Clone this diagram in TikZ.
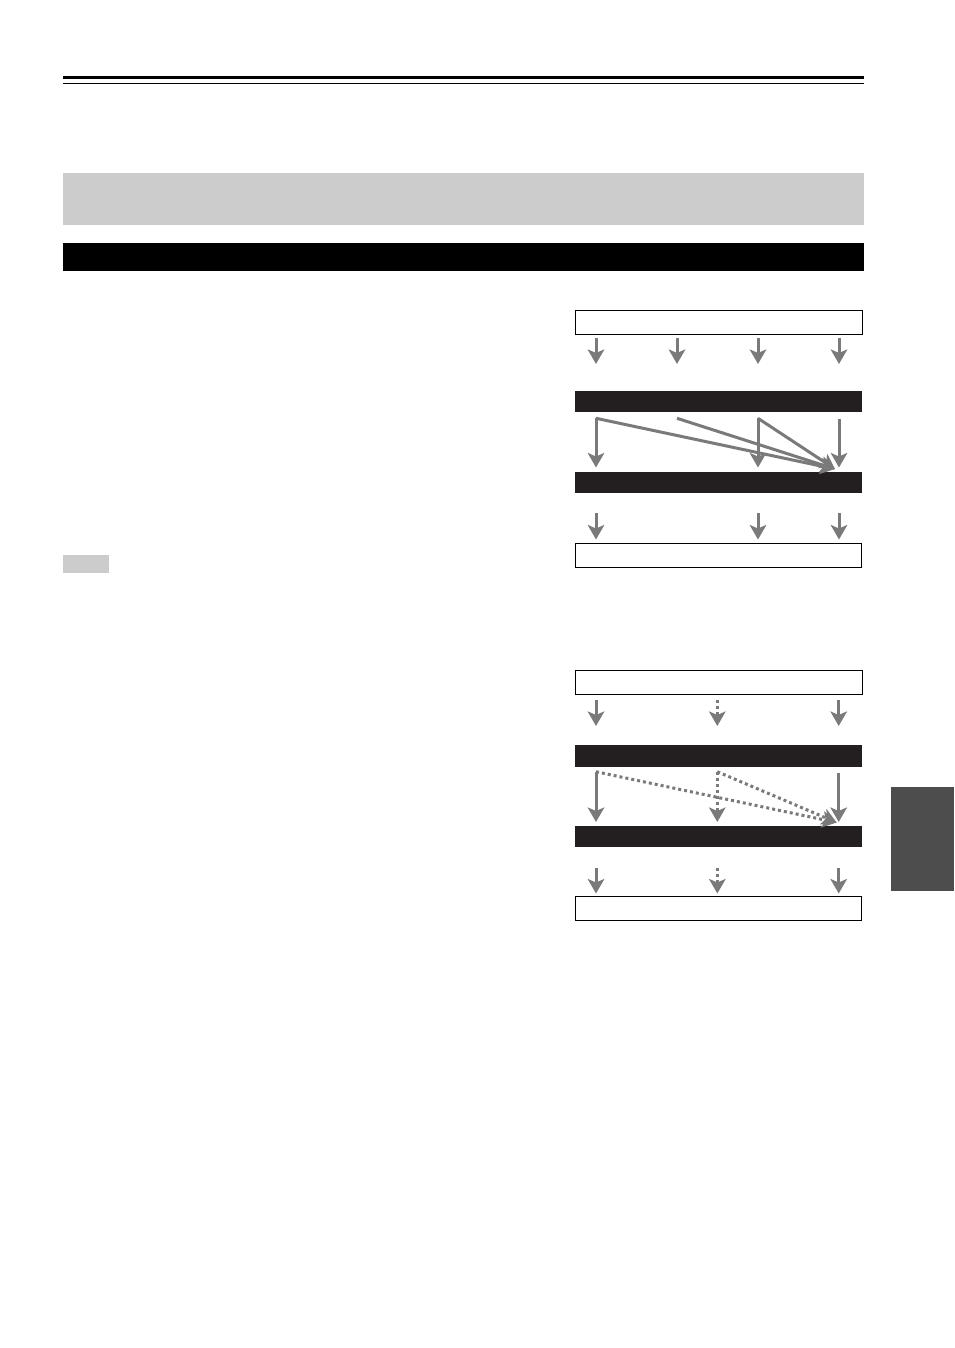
\documentclass[tikz,border=0pt]{standalone}
\usetikzlibrary{arrows.meta}
\definecolor{bandblack}{HTML}{231F20}
\definecolor{arrgray}{HTML}{7A7A7A}
\definecolor{lightband}{HTML}{CCCCCC}
\definecolor{tabgray}{HTML}{4D4D4D}
\tikzset{
  flow/.style={draw=arrgray, line width=3pt, -{Stealth[length=14.5pt,width=16.5pt,inset=3.5pt]}},
  dotflow/.style={flow, dash pattern=on 3pt off 3pt},
  framebox/.style={draw=black, line width=1pt, fill=white},
  blackband/.style={fill=bandblack},
}
\begin{document}
\begin{tikzpicture}[x=1pt,y=-1pt]
\useasboundingbox (0,0) rectangle (954,1348);
\fill[white] (0,0) rectangle (954,1348);
% header rules
\fill[black] (63,75.7) rectangle (864,78.6);
\fill[black] (63,82.6) rectangle (864,83.8);
\fill[lightband] (63,172.7) rectangle (864,224.7);
\fill[black] (63,242.7) rectangle (864,270.7);
\fill[lightband] (63,555) rectangle (109,573);
\fill[tabgray] (891,786.7) rectangle (954,890.7);

% ---------- diagram 1 ----------
\node[framebox, minimum width=286.2pt, minimum height=24pt, inner sep=0pt, anchor=north west] (in1) at (575.3,309.5) {};
\fill[blackband] (575,390.7) rectangle (862,411.7);
\fill[blackband] (575,472.3) rectangle (862,493.3);
\node[framebox, minimum width=285.2pt, minimum height=24pt, inner sep=0pt, anchor=north west] (out1) at (575.3,542.5) {};

\foreach \n/\x in {a/596,b/677,c/758,d/839}{
  \coordinate (t1\n) at (\x,337.7);
  \coordinate (h1\n) at (\x,364);
  \draw[flow] (t1\n) -- (h1\n);
}
\coordinate (s1a) at (596,418.3);
\coordinate (s1b) at (677,418.3);
\coordinate (s1c) at (758,418.3);
\coordinate (s1d) at (839,419);
\coordinate (e1a) at (596,467.5);
\coordinate (e1c) at (758,467.5);
\coordinate (e1d) at (839,467.5);
\coordinate (tgt1) at (835,469);
\draw[flow] (s1a) -- (e1a);
\draw[flow] (s1c) -- (e1c);
\draw[flow] (s1d) -- (e1d);
\draw[flow] (s1a) -- (tgt1);
\draw[flow] (s1b) -- (tgt1);
\draw[flow] (s1c) -- (tgt1);
\foreach \n/\x in {a/596,c/758,d/839}{
  \coordinate (u1\n) at (\x,513.3);
  \coordinate (v1\n) at (\x,539.5);
  \draw[flow] (u1\n) -- (v1\n);
}

% ---------- diagram 2 ----------
\node[framebox, minimum width=286.2pt, minimum height=24.3pt, inner sep=0pt, anchor=north west] (in2) at (575.3,670) {};
\fill[blackband] (575,745) rectangle (862,766.7);
\fill[blackband] (575,825.7) rectangle (862,847.3);
\node[framebox, minimum width=285.5pt, minimum height=24pt, inner sep=0pt, anchor=north west] (out2) at (575.3,896) {};

\coordinate (t2a) at (596,700); \coordinate (h2a) at (596,726);
\coordinate (t2b) at (717.3,700); \coordinate (h2b) at (717.3,726);
\coordinate (t2c) at (838.7,700); \coordinate (h2c) at (838.7,726);
\draw[flow] (t2a) -- (h2a);
\draw[dotflow] (t2b) -- (h2b);
\draw[flow] (t2c) -- (h2c);

\coordinate (s2a) at (596,771.7);
\coordinate (s2b) at (717.3,771.7);
\coordinate (s2c) at (838.7,772.7);
\coordinate (e2a) at (596,822);
\coordinate (e2b) at (717.3,822);
\coordinate (e2c) at (838.7,822);
\coordinate (tgt2) at (836.7,822.5);
\draw[flow] (s2a) -- (e2a);
\draw[dotflow] (s2b) -- (e2b);
\draw[flow] (s2c) -- (e2c);
\draw[dotflow] (s2a) -- (tgt2);
\draw[dotflow] (s2b) -- (tgt2);

\coordinate (u2a) at (596,868.3); \coordinate (v2a) at (596,893.5);
\coordinate (u2b) at (717.3,868.3); \coordinate (v2b) at (717.3,893.5);
\coordinate (u2c) at (838.7,868.3); \coordinate (v2c) at (838.7,893.5);
\draw[flow] (u2a) -- (v2a);
\draw[dotflow] (u2b) -- (v2b);
\draw[flow] (u2c) -- (v2c);
\end{tikzpicture}
\end{document}
